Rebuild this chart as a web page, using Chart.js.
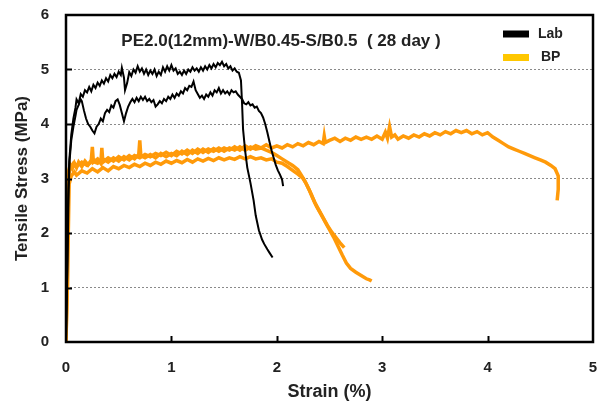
<!DOCTYPE html>
<html>
<head>
<meta charset="utf-8">
<script src="https://cdn.jsdelivr.net/npm/chart.js@4.4.1/dist/chart.umd.min.js"></script>
<style>
  body { margin: 0; background: #fff; }
  #wrap { width: 608px; height: 403px; }
</style>
</head>
<body>
<div id="wrap"><canvas id="chart" width="608" height="403"></canvas></div>
<script>
// values, [strain %, stress MPa]
const labUpper = [
    [0.0, 0], [0.01, 1.2], [0.02, 2.6], [0.03, 3.3], [0.05, 3.8], [0.07, 4.1], [0.09, 4.3], [0.1, 4.45],
    [0.12, 4.38], [0.14, 4.55], [0.16, 4.5], [0.18, 4.62], [0.2, 4.58], [0.22, 4.68], [0.24, 4.6], [0.26, 4.72],
    [0.28, 4.66], [0.3, 4.76], [0.32, 4.7], [0.34, 4.8], [0.36, 4.74], [0.38, 4.84], [0.4, 4.78], [0.42, 4.9],
    [0.44, 4.84], [0.46, 4.92], [0.48, 4.86], [0.5, 4.96], [0.52, 4.9], [0.53, 5.03], [0.55, 4.85], [0.56, 4.62],
    [0.58, 4.75], [0.6, 4.95], [0.62, 4.88], [0.64, 5.0], [0.66, 4.94], [0.68, 5.06], [0.7, 4.96], [0.72, 5.02],
    [0.74, 4.92], [0.76, 5.0], [0.78, 4.9], [0.8, 4.98], [0.82, 4.92], [0.84, 5.0], [0.86, 4.88], [0.88, 4.96],
    [0.9, 4.9], [0.92, 5.04], [0.94, 4.96], [0.96, 5.06], [0.98, 4.98], [1.0, 5.08], [1.02, 4.98], [1.04, 5.02],
    [1.06, 4.92], [1.08, 4.96], [1.1, 4.9], [1.12, 4.98], [1.14, 4.92], [1.16, 5.0], [1.18, 4.96], [1.2, 5.04],
    [1.22, 4.98], [1.24, 5.02], [1.26, 4.96], [1.28, 5.04], [1.3, 4.98], [1.32, 5.06], [1.34, 5.0], [1.36, 5.08],
    [1.38, 5.02], [1.4, 5.1], [1.42, 5.04], [1.44, 5.12], [1.46, 5.08], [1.48, 5.14], [1.5, 5.06], [1.52, 5.1],
    [1.54, 5.02], [1.56, 5.06], [1.58, 4.98], [1.6, 5.02], [1.62, 4.96], [1.64, 4.94], [1.66, 4.8], [1.67, 4.4],
    [1.68, 3.9], [1.7, 3.5], [1.72, 3.2], [1.75, 2.92], [1.78, 2.6], [1.8, 2.32], [1.83, 2.05], [1.86, 1.88],
    [1.88, 1.8], [1.91, 1.7], [1.93, 1.64], [1.96, 1.55]
];

const labLower = [
    [0, 0], [0.015, 1.5], [0.025, 2.8], [0.035, 3.35], [0.05, 3.7], [0.07, 3.95], [0.09, 4.15], [0.1, 4.26],
    [0.12, 4.35], [0.14, 4.45], [0.15, 4.42], [0.17, 4.25], [0.19, 4.1], [0.21, 4.0], [0.23, 3.95], [0.25, 3.88],
    [0.27, 3.83], [0.29, 3.95], [0.31, 4.0], [0.33, 4.1], [0.35, 4.05], [0.37, 4.2], [0.39, 4.26], [0.41, 4.22],
    [0.43, 4.34], [0.45, 4.3], [0.47, 4.42], [0.49, 4.45], [0.51, 4.35], [0.53, 4.2], [0.55, 4.05], [0.57, 4.2],
    [0.59, 4.32], [0.61, 4.4], [0.63, 4.46], [0.65, 4.4], [0.67, 4.48], [0.69, 4.42], [0.71, 4.5], [0.73, 4.44],
    [0.75, 4.5], [0.77, 4.42], [0.79, 4.46], [0.81, 4.4], [0.83, 4.44], [0.85, 4.32], [0.87, 4.36], [0.89, 4.42],
    [0.91, 4.38], [0.93, 4.46], [0.95, 4.42], [0.97, 4.5], [0.99, 4.46], [1.01, 4.54], [1.03, 4.48], [1.05, 4.56],
    [1.07, 4.52], [1.09, 4.6], [1.11, 4.56], [1.13, 4.66], [1.15, 4.62], [1.17, 4.7], [1.19, 4.68], [1.21, 4.78],
    [1.23, 4.62], [1.25, 4.55], [1.27, 4.48], [1.29, 4.52], [1.31, 4.46], [1.33, 4.54], [1.35, 4.5], [1.37, 4.58],
    [1.39, 4.52], [1.41, 4.62], [1.43, 4.58], [1.45, 4.66], [1.47, 4.56], [1.49, 4.62], [1.51, 4.56], [1.53, 4.6],
    [1.55, 4.54], [1.57, 4.62], [1.59, 4.58], [1.61, 4.6], [1.63, 4.54], [1.65, 4.5], [1.67, 4.46], [1.69, 4.38],
    [1.71, 4.36], [1.73, 4.4], [1.75, 4.34], [1.77, 4.36], [1.79, 4.3], [1.81, 4.32], [1.83, 4.24], [1.85, 4.2],
    [1.87, 4.12], [1.89, 4.0], [1.91, 3.85], [1.93, 3.68], [1.95, 3.52], [1.97, 3.38], [1.99, 3.25], [2.01, 3.15],
    [2.03, 3.07], [2.05, 2.98], [2.06, 2.86]
];

const bpLong = [
    [0, 0], [0.01, 1.0], [0.015, 2.2], [0.02, 3.1], [0.04, 3.25], [0.06, 3.18], [0.08, 3.28], [0.1, 3.2],
    [0.12, 3.3], [0.15, 3.22], [0.18, 3.32], [0.21, 3.25], [0.24, 3.34], [0.25, 3.58], [0.26, 3.3], [0.3, 3.36],
    [0.33, 3.28], [0.34, 3.56], [0.35, 3.3], [0.4, 3.38], [0.45, 3.32], [0.5, 3.4], [0.55, 3.34], [0.6, 3.42],
    [0.65, 3.36], [0.69, 3.44], [0.7, 3.7], [0.71, 3.42], [0.75, 3.38], [0.8, 3.44], [0.85, 3.38], [0.9, 3.46],
    [0.95, 3.4], [1.0, 3.46], [1.05, 3.42], [1.1, 3.5], [1.15, 3.44], [1.2, 3.52], [1.25, 3.46], [1.3, 3.54],
    [1.35, 3.48], [1.4, 3.55], [1.45, 3.5], [1.5, 3.56], [1.55, 3.52], [1.6, 3.58], [1.65, 3.52], [1.7, 3.6],
    [1.75, 3.54], [1.8, 3.6], [1.85, 3.56], [1.9, 3.62], [1.95, 3.56], [2.0, 3.6], [2.05, 3.56], [2.1, 3.62],
    [2.15, 3.58], [2.2, 3.64], [2.25, 3.6], [2.3, 3.66], [2.35, 3.62], [2.4, 3.68], [2.44, 3.64], [2.45, 3.78],
    [2.46, 3.66], [2.5, 3.7], [2.55, 3.74], [2.6, 3.68], [2.65, 3.74], [2.7, 3.7], [2.75, 3.76], [2.8, 3.72],
    [2.85, 3.76], [2.9, 3.72], [2.95, 3.78], [3.0, 3.72], [3.03, 3.85], [3.05, 3.74], [3.07, 3.95], [3.09, 3.76],
    [3.12, 3.8], [3.15, 3.72], [3.2, 3.78], [3.25, 3.74], [3.3, 3.8], [3.35, 3.76], [3.4, 3.82], [3.45, 3.78],
    [3.5, 3.84], [3.55, 3.8], [3.6, 3.86], [3.65, 3.82], [3.7, 3.88], [3.75, 3.84], [3.8, 3.88], [3.85, 3.82],
    [3.9, 3.86], [3.95, 3.8], [4.0, 3.84], [4.05, 3.76], [4.1, 3.7], [4.15, 3.64], [4.2, 3.58], [4.25, 3.54],
    [4.3, 3.5], [4.35, 3.46], [4.4, 3.42], [4.45, 3.38], [4.5, 3.34], [4.55, 3.3], [4.6, 3.24], [4.64, 3.18],
    [4.67, 3.05], [4.67, 2.8], [4.66, 2.6]
];

const bpMid = [
    [0, 0], [0.01, 1.5], [0.02, 3.0], [0.04, 3.2], [0.07, 3.28], [0.1, 3.22], [0.15, 3.3], [0.2, 3.24],
    [0.25, 3.32], [0.3, 3.28], [0.35, 3.36], [0.4, 3.3], [0.45, 3.38], [0.5, 3.32], [0.55, 3.4], [0.6, 3.34],
    [0.65, 3.42], [0.7, 3.38], [0.75, 3.44], [0.8, 3.4], [0.85, 3.46], [0.9, 3.42], [0.95, 3.48], [1.0, 3.42],
    [1.05, 3.5], [1.1, 3.45], [1.15, 3.52], [1.2, 3.46], [1.25, 3.54], [1.3, 3.48], [1.35, 3.54], [1.4, 3.5],
    [1.45, 3.56], [1.5, 3.5], [1.55, 3.56], [1.6, 3.52], [1.65, 3.58], [1.7, 3.52], [1.75, 3.58], [1.8, 3.54],
    [1.85, 3.56], [1.9, 3.52], [1.95, 3.48], [2.0, 3.42], [2.05, 3.36], [2.1, 3.3], [2.15, 3.24], [2.2, 3.16],
    [2.24, 3.04], [2.27, 2.94], [2.3, 2.82], [2.33, 2.7], [2.36, 2.56], [2.4, 2.42], [2.44, 2.28], [2.48, 2.14],
    [2.52, 2.02], [2.56, 1.92], [2.6, 1.82], [2.64, 1.73]
];

const bpShort = [
    [0, 0], [0.02, 1.8], [0.03, 2.9], [0.05, 3.05], [0.08, 3.12], [0.1, 3.06], [0.15, 3.14], [0.2, 3.1],
    [0.25, 3.18], [0.3, 3.12], [0.35, 3.2], [0.4, 3.14], [0.45, 3.22], [0.5, 3.18], [0.55, 3.24], [0.6, 3.2],
    [0.65, 3.26], [0.7, 3.22], [0.75, 3.28], [0.8, 3.24], [0.85, 3.3], [0.9, 3.26], [0.95, 3.32], [1.0, 3.28],
    [1.05, 3.33], [1.1, 3.29], [1.15, 3.35], [1.2, 3.3], [1.25, 3.36], [1.3, 3.32], [1.35, 3.37], [1.4, 3.33],
    [1.45, 3.38], [1.5, 3.34], [1.55, 3.38], [1.6, 3.35], [1.65, 3.4], [1.7, 3.36], [1.75, 3.4], [1.8, 3.36],
    [1.85, 3.38], [1.9, 3.34], [1.95, 3.36], [2.0, 3.3], [2.05, 3.28], [2.1, 3.22], [2.15, 3.15], [2.2, 3.08],
    [2.25, 3.0], [2.28, 2.9], [2.31, 2.78], [2.34, 2.64], [2.38, 2.48], [2.42, 2.34], [2.46, 2.2], [2.5, 2.06],
    [2.54, 1.92], [2.58, 1.76], [2.62, 1.6], [2.66, 1.45], [2.7, 1.35], [2.75, 1.28], [2.8, 1.22], [2.85, 1.16],
    [2.88, 1.14], [2.9, 1.12]
];

const xTicks = [0, 1, 2, 3, 4, 5];
const yTicks = [0, 1, 2, 3, 4, 5, 6];
const legendLabels = ['Lab', 'BP'];
const chartTitle = 'PE2.0(12mm)-W/B0.45-S/B0.5  ( 28 day )';

const FONT = 'Arial, "Liberation Sans", sans-serif';
const LAB_COLOR = '#000000';
const BP_COLOR = '#FF9A0A';
const BP_KEY = '#FFC700';

function toPoints(arr) {
    return arr.map(p => ({ x: p[0], y: p[1] }));
}

function curve(arr, color, width) {
    return {
        data: toPoints(arr),
        borderColor: color,
        borderWidth: width,
        pointRadius: 0,
        tension: 0,
        fill: false
    };
}

const framePlugin = {
    id: 'frame',
    afterDatasetsDraw(chart) {
        const { ctx, chartArea: a, scales: { x, y } } = chart;
        ctx.save();
        ctx.strokeStyle = '#000';
        ctx.lineWidth = 2;
        xTicks.slice(1, -1).forEach(v => {
            const px = Math.round(x.getPixelForValue(v)) + 0.5;
            ctx.beginPath();
            ctx.moveTo(px, a.bottom);
            ctx.lineTo(px, a.bottom - 6);
            ctx.stroke();
        });
        yTicks.slice(1, -1).forEach(v => {
            const py = Math.round(y.getPixelForValue(v)) + 0.5;
            ctx.beginPath();
            ctx.moveTo(a.left, py);
            ctx.lineTo(a.left + 6, py);
            ctx.stroke();
        });
        ctx.lineWidth = 2.5;
        ctx.strokeRect(a.left, a.top, a.right - a.left, a.bottom - a.top);

        ctx.fillStyle = '#222';
        ctx.font = 'bold 17px ' + FONT;
        ctx.textAlign = 'center';
        ctx.textBaseline = 'middle';
        ctx.fillText(chartTitle, 281, 41);

        // legend
        const keys = [LAB_COLOR, BP_KEY];
        legendLabels.forEach((label, i) => {
            const cy = 34 + i * 23.5;
            ctx.fillStyle = keys[i];
            ctx.fillRect(503, cy - 3.5, 26, 7);
            ctx.fillStyle = '#222';
            ctx.font = 'bold 14px ' + FONT;
            ctx.textAlign = 'left';
            ctx.fillText(label, 538 + i * 3, cy);
        });
        ctx.restore();
    }
};

new Chart(document.getElementById('chart'), {
    type: 'line',
    data: {
        datasets: [
            curve(labUpper, LAB_COLOR, 2),
            curve(labLower, LAB_COLOR, 2),
            curve(bpLong, BP_COLOR, 3.5),
            curve(bpMid, BP_COLOR, 3.5),
            curve(bpShort, BP_COLOR, 3.5)
        ]
    },
    options: {
        responsive: false,
        animation: false,
        layout: { padding: { left: 0, right: 15, top: 15, bottom: 0 } },
        plugins: {
            legend: { display: false },
            tooltip: { enabled: false }
        },
        scales: {
            x: {
                type: 'linear',
                min: 0,
                max: 5,
                afterFit: s => {
                    s.height = 61;
                    s.paddingLeft = 0;
                    s.paddingRight = 0;
                },
                afterBuildTicks: s => { s.ticks = xTicks.map(v => ({ value: v })); },
                grid: { display: false, drawTicks: false },
                border: { display: false },
                ticks: {
                    padding: 17,
                    color: '#222',
                    font: { family: FONT, size: 15, weight: 'bold' }
                },
                title: {
                    display: true,
                    text: 'Strain (%)',
                    color: '#222',
                    padding: { top: 0, bottom: 0 },
                    font: { family: FONT, size: 18, weight: 'bold' }
                }
            },
            y: {
                min: 0,
                max: 6,
                afterFit: s => {
                    s.width = 66;
                    s.paddingTop = 0;
                    s.paddingBottom = 0;
                },
                afterBuildTicks: s => { s.ticks = yTicks.map(v => ({ value: v })); },
                grid: {
                    drawTicks: false,
                    color: c => (c.tick && c.tick.value > 0 && c.tick.value < 6) ? '#8a8a8a' : 'rgba(0,0,0,0)',
                    lineWidth: 1
                },
                border: { display: false, dash: [2, 2] },
                ticks: {
                    padding: 17,
                    color: '#222',
                    font: { family: FONT, size: 15, weight: 'bold' }
                },
                title: {
                    display: true,
                    text: 'Tensile Stress (MPa)',
                    color: '#222',
                    padding: { top: 12, bottom: 0 },
                    font: { family: FONT, size: 17, weight: 'bold' }
                }
            }
        }
    },
    plugins: [framePlugin]
});
</script>
</body>
</html>
